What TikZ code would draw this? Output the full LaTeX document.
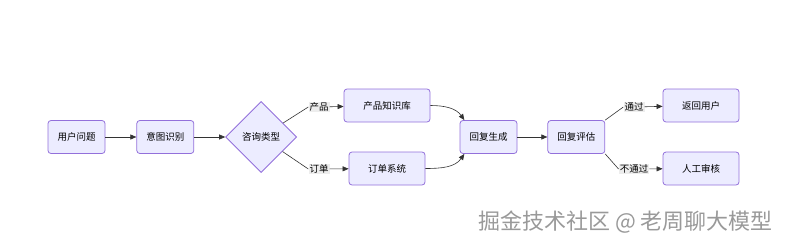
\documentclass[tikz,border=0pt]{standalone}
\usepackage{fontspec}
\newfontfamily\cjk{Noto Sans CJK SC}
\usetikzlibrary{positioning,shapes.geometric,arrows.meta}

\definecolor{boxfill}{HTML}{ECECFF}
\definecolor{boxline}{HTML}{9370DB}
\definecolor{edgeline}{HTML}{333333}
\definecolor{lblfill}{HTML}{EDEDED}

\begin{document}
\begin{tikzpicture}[x=1pt, y=1pt,
    box/.style={draw=boxline, fill=boxfill, rounded corners=3pt, line width=0.8pt,
        minimum width=57pt, minimum height=33pt, inner sep=0pt,
        font=\cjk\fontsize{9.5}{11}\selectfont},
    wbox/.style={box, minimum width=76pt},
    decide/.style={diamond, draw=boxline, fill=boxfill, line width=0.8pt, aspect=1,
        minimum width=71pt, minimum height=71pt, inner sep=0pt,
        font=\cjk\fontsize{9.5}{11}\selectfont},
    lbl/.style={fill=lblfill, inner sep=1pt, font=\cjk\fontsize{9.5}{11}\selectfont},
    flow/.style={draw=edgeline, line width=0.6pt, -{Triangle[length=6pt,width=5pt]}},
    link/.style={draw=edgeline, line width=0.6pt}
]
    \useasboundingbox (0,0) rectangle (791,247);

    % main row
    \node[box] (user) at (76.5,110) {用户问题};
    \node[box, right=31pt of user] (intent) {意图识别};
    \node[decide, right=31pt of intent] (type) {咨询类型};

    % branches
    \node[box, minimum width=86pt] (kb) at (387,141.5) {产品知识库};
    \node[wbox] (order) at (387,78.5) {订单系统};
    \node[lbl] (lprod) at (319,140) {产品};
    \node[lbl] (lord) at (319,78) {订单};

    \node[box] (gen) at (488.5,110) {回复生成};
    \node[box, right=30pt of gen] (eval) {回复评估};

    \node[wbox] (back) at (701,141.5) {返回用户};
    \node[wbox] (human) at (701,78.5) {人工审核};
    \node[lbl] (lpass) at (634,140) {通过};
    \node[lbl] (lfail) at (634,78) {不通过};

    % edges
    \draw[flow] (user) -- (intent);
    \draw[flow] (intent) -- (type);
    \draw[link] (type) -- (lprod.west);
    \draw[flow] (lprod) -- (kb);
    \draw[link] (type) -- (lord.west);
    \draw[flow] (lord) -- (order);
    \draw[flow] (kb.east) to[out=0, in=125] (gen.145);
    \draw[flow] (order.east) to[out=0, in=-125] (gen.-145);
    \draw[flow] (gen) -- (eval);
    \draw[link] (eval.north east) -- (lpass.west);
    \draw[flow] (lpass) -- (back);
    \draw[link] (eval.south east) -- (lfail.west);
    \draw[flow] (lfail) -- (human);

    % watermark
    \node[text=gray!80, font=\cjk\fontsize{22}{24}\selectfont] (mark) at (625.5,24.5) {掘金技术社区 @ 老周聊大模型};
\end{tikzpicture}
\end{document}
